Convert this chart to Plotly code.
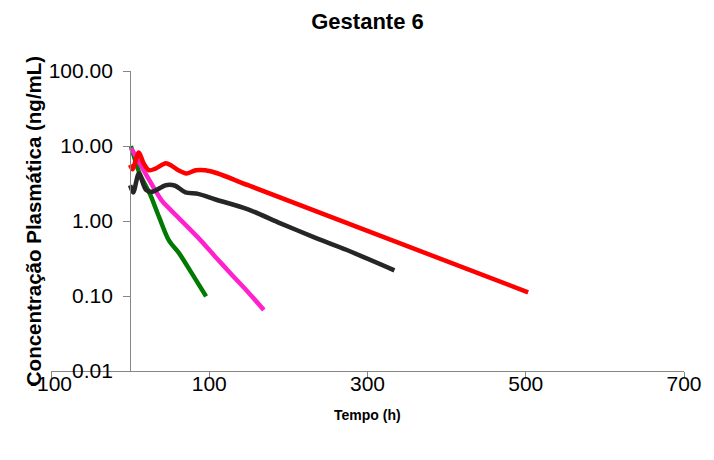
import plotly.graph_objects as go

# Data (time in h, concentration in ng/mL)
green_t = [1, 12, 25, 37, 49, 62, 78, 96]
green_c = [10.0, 4.3, 2.3, 1.1, 0.55, 0.37, 0.2, 0.099]

pink_t = [1, 5, 20, 40, 50, 61, 86, 107, 127, 150, 169]
pink_c = [9.3, 8.0, 4.2, 1.87, 1.45, 1.11, 0.6, 0.34, 0.2, 0.11, 0.065]

black_t = [0, 4, 11, 20, 28, 45, 57, 70, 86, 107, 149, 190, 232, 274, 334]
black_c = [3.0, 2.4, 4.3, 2.6, 2.45, 3.0, 2.95, 2.4, 2.3, 1.95, 1.43, 0.93, 0.61, 0.41, 0.22]

red_t = [0, 3, 11, 17, 24, 32, 45, 52, 61, 71, 83, 95, 111, 149, 503]
red_c = [5.6, 4.9, 8.2, 5.9, 4.75, 5.0, 5.9, 5.5, 4.75, 4.3, 4.75, 4.75, 4.3, 3.0, 0.112]

x_ticks = [-100, 100, 300, 500, 700]
x_ticktext = ["-100", "100", "300", "500", "700"]
y_ticks = [0.01, 0.1, 1, 10, 100]
y_ticktext = ["0.01", "0.10", "1.00", "10.00", "100.00"]

FONT = "Liberation Sans, Arial, sans-serif"
AXC = "#868686"

fig = go.Figure()
series = [
    (green_t, green_c, "#007A00"),
    (pink_t, pink_c, "#FF22CC"),
    (black_t, black_c, "#262626"),
    (red_t, red_c, "#FF0000"),
]
for t, c, col in series:
    fig.add_trace(go.Scatter(x=t, y=c, mode="lines",
                             line=dict(color=col, width=4.5, shape="spline", smoothing=0.8),
                             showlegend=False, hoverinfo="skip"))

fig.update_layout(
    width=714, height=460,
    margin=dict(l=51, r=23, t=71, b=89),
    paper_bgcolor="white", plot_bgcolor="white",
    font=dict(family=FONT, color="#000000"),
    title=dict(text="<b>Gestante 6</b>", x=0.5, xref="paper", xanchor="center",
               y=1 - 21 / 460, yref="container", yanchor="middle",
               font=dict(size=22, family=FONT, color="#000000")),
    xaxis=dict(range=[-100, 700], tickvals=x_ticks, ticktext=x_ticktext,
               showgrid=False, zeroline=False, showline=True, linecolor=AXC, linewidth=1,
               ticks="outside", ticklen=6, tickcolor=AXC, tickwidth=1,
               tickfont=dict(size=21, family=FONT, color="#000000"),
               ticklabelstandoff=-12),
    yaxis=dict(type="log", range=[-2, 2], tickvals=y_ticks, ticktext=y_ticktext,
               anchor="free", position=0.125,
               showgrid=False, zeroline=False, showline=True, linecolor=AXC, linewidth=1,
               ticks="outside", ticklen=7, tickcolor=AXC, tickwidth=1,
               tickfont=dict(size=21, family=FONT, color="#000000"),
               ticklabelstandoff=6),
    annotations=[
        dict(text="<b>Concentração Plasmática (ng/mL)</b>", textangle=-90,
             x=(33 - 51) / 640, y=0.5, xref="paper", yref="paper",
             xanchor="center", yanchor="middle", showarrow=False,
             font=dict(size=20.5, family=FONT, color="#000000")),
        dict(text="<b>Tempo (h)</b>", x=0.5, y=(371 - 415) / 300,
             xref="paper", yref="paper", xanchor="center", yanchor="middle",
             showarrow=False, font=dict(size=14, family=FONT, color="#000000")),
    ],
)

fig.write_html("out.html")
